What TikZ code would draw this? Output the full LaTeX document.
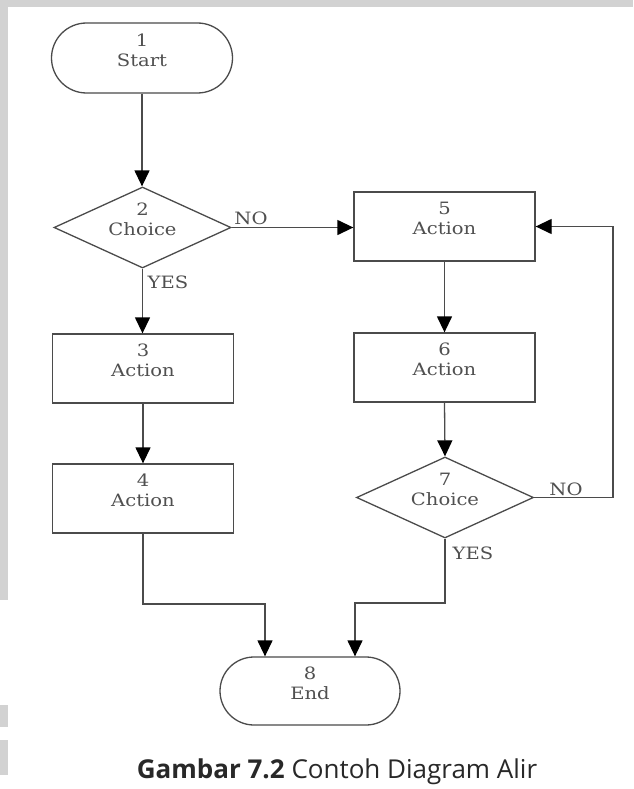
\documentclass[tikz,border=0pt]{standalone}
\usepackage{fontspec}
\usetikzlibrary{shapes.geometric,arrows.meta}
\newfontfamily\dfont[FakeStretch=1.15]{DejaVu Serif}
\newfontfamily\capfont{Open Sans}
\definecolor{lncol}{RGB}{75,75,75}
\definecolor{txcol}{RGB}{80,80,80}
\definecolor{bandcol}{RGB}{210,210,210}
\begin{document}
\begin{tikzpicture}[x=1pt,y=-1pt,
  base/.style={draw=lncol, line width=1.3pt, inner sep=0pt, align=center, text=txcol,
    font=\dfont\fontsize{17}{20}\selectfont},
  term/.style={base, rectangle, minimum width=181pt, minimum height=70pt, rounded corners=35pt},
  actbox/.style={base, rectangle, minimum width=181pt, minimum height=69pt},
  choice/.style={base, diamond, aspect=2.2, minimum width=177pt, minimum height=81pt},
  lbl/.style={text=txcol, inner sep=0pt, font=\dfont\fontsize{17}{20}\selectfont},
  conn/.style={draw=lncol, line width=1.3pt},
  arr/.style={conn, -{Triangle[width=15pt,length=16pt,color=black]}}
]
\useasboundingbox (0,0) rectangle (633,789);
\fill[white] (0,0) rectangle (633,789);
\fill[bandcol] (0,0) rectangle (633,7);
\fill[bandcol] (0,7) rectangle (8,600);
\fill[bandcol] (0,705) rectangle (8,727);
\fill[bandcol] (0,740) rectangle (8,775);

\node[term]   (s1) at (142,58)    {1\\Start\\[-4pt]\mbox{}};
\node[choice] (d2) at (142.5,227.5) {2\\Choice\\[-4pt]\mbox{}};
\node[actbox] (a3) at (143,368.5) {3\\Action\\[-4pt]\mbox{}};
\node[actbox] (a4) at (143,498.5) {4\\Action\\[-4pt]\mbox{}};
\node[actbox] (a5) at (444.5,226.5) {5\\Action\\[-4pt]\mbox{}};
\node[actbox] (a6) at (444.5,367.5) {6\\Action\\[-4pt]\mbox{}};
\node[choice] (d7) at (445,497.5) {7\\Choice\\[-4pt]\mbox{}};
\node[term, minimum height=68pt, rounded corners=34pt, minimum width=180pt] (e8) at (310,691) {8\\End\\[-4pt]\mbox{}};

\node[lbl] (no1)  at (251,218) {NO};
\node[lbl] (yes1) at (168,282) {YES};
\node[lbl] (no2)  at (566,489) {NO};
\node[lbl] (yes2) at (473,553) {YES};

\coordinate (loop) at (613,497.5);
\coordinate (jl) at (143,604);
\coordinate (jr) at (445,603);

\draw[arr] (s1.south) -- (s1.south |- d2.north);
\draw[arr] (d2.east) -- (d2.east -| a5.west);
\draw[arr] (d2.south) -- (d2.south |- a3.north);
\draw[arr] (a3.south) -- (a4.north);
\draw[arr] (a5.south) -- (a6.north);
\draw[arr] (a6.south) -- (d7.north);
\draw[arr] (d7.east) -- (loop) |- (a5.east);
\draw[arr] (a4.south) -- (jl) -| ([xshift=-45pt]e8.north);
\draw[arr] (d7.south) -- (jr) -| ([xshift=45pt]e8.north);

\node[anchor=base, inner sep=0pt, text={rgb,255:red,40;green,40;blue,40}, font=\capfont\fontsize{26}{30}\selectfont] (cap) at (337,778) {\textbf{Gambar 7.2} Contoh Diagram Alir};
\end{tikzpicture}
\end{document}
